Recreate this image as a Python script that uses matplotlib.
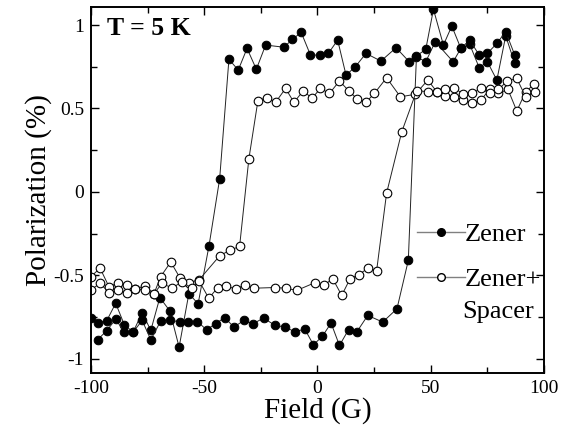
import matplotlib
matplotlib.use("Agg")
import matplotlib.pyplot as plt
from matplotlib.lines import Line2D
from matplotlib.ticker import MultipleLocator, FormatStrFormatter

# Zener, field swept down (upper branch, flips near -45 G)
zener_down_x = [87.1, 83.1, 79.2, 75.0, 71.4, 67.2, 63.3, 59.9, 52.0, 47.8, 43.7, 40.5,
                34.7, 28.0, 21.4, 16.7, 12.6, 8.9, 4.8, 0.9, -3.1, -7.2, -11.1, -14.8,
                -22.9, -27.0, -31.1, -35.0, -39.1, -43.2, -47.9, -52.7, -56.8, -61.1,
                -65.2, -69.6, -73.6, -77.4, -81.4, -85.3, -89.1, -93.1, -97.1, -100.0]
zener_down_y = [0.77, 0.935, 0.67, 0.78, 0.744, 0.885, 0.86, 0.78, 0.90, 0.78, 0.81, 0.78,
                0.864, 0.784, 0.83, 0.75, 0.70, 0.91, 0.83, 0.82, 0.82, 0.956, 0.914, 0.867,
                0.88, 0.735, 0.86, 0.73, 0.795, 0.078, -0.323, -0.67, -0.61, -0.93,
                -0.713, -0.633, -0.83, -0.723, -0.84, -0.796, -0.667, -0.773, -0.786, -0.754]

# Zener, field swept up (lower branch, flips near +45 G)
zener_up_x = [-97.1, -93.1, -89.1, -85.3, -81.4, -77.4, -73.6, -69.2, -65.2, -60.8, -57.1,
              -53.0, -49.0, -45.0, -41.0, -36.9, -32.5, -28.5, -23.8, -18.7, -14.2, -9.8,
              -5.7, -1.8, 2.1, 6.0, 9.7, 13.7, 17.3, 22.2, 28.8, 35.1, 40.1, 43.7, 47.8,
              51.2, 55.6, 59.3, 63.3, 67.2, 71.4, 75.0, 79.2, 83.1, 87.1]
zener_up_y = [-0.886, -0.832, -0.763, -0.84, -0.84, -0.77, -0.886, -0.773, -0.767, -0.78, -0.78,
              -0.777, -0.826, -0.79, -0.753, -0.81, -0.77, -0.79, -0.756, -0.80, -0.81, -0.84,
              -0.82, -0.916, -0.866, -0.786, -0.92, -0.826, -0.84, -0.74, -0.78, -0.70, -0.41,
              0.815, 0.854, 1.094, 0.88, 0.994, 0.86, 0.91, 0.82, 0.83, 0.89, 0.96, 0.82]

# Zener + spacer, field swept down
spacer_down_x = [95.6, 91.9, 88.0, 84.1, 79.9, 76.0, 72.1, 68.1, 64.3, 60.4, 56.4, 52.7, 48.7,
                 43.2, 36.6, 30.5, 25.1, 21.4, 17.5, 13.7, 9.7, 5.3, 1.3, -2.5, -6.2, -10.4,
                 -14.1, -18.5, -22.3, -26.3, -30.3, -34.4, -38.8, -43.2, -52.3, -56.7, -60.8,
                 -64.8, -69.2, -72.2, -76.2, -80.6, -84.0, -88.0, -92.1, -96.0, -100.0]
spacer_down_y = [0.645, 0.60, 0.485, 0.614, 0.59, 0.614, 0.55, 0.535, 0.55, 0.57, 0.577, 0.60, 0.67,
                 0.585, 0.57, 0.684, 0.59, 0.537, 0.557, 0.607, 0.665, 0.59, 0.62, 0.56, 0.607, 0.537,
                 0.62, 0.537, 0.565, 0.547, 0.198, -0.327, -0.35, -0.383, -0.527, -0.543, -0.513,
                 -0.42, -0.507, -0.61, -0.563, -0.583, -0.557, -0.547, -0.567, -0.457, -0.507]

# Zener + spacer, field swept up
spacer_up_x = [-100.0, -96.0, -92.1, -88.0, -84.0, -80.6, -76.2, -72.2, -68.6, -64.2, -59.8,
               -55.6, -52.3, -48.0, -44.0, -40.2, -36.1, -32.2, -28.1, -18.9, -14.1, -9.1,
               -1.0, 2.8, 6.7, 10.7, 14.4, 18.2, 22.2, 26.1, 30.5, 37.2, 43.8, 49.0, 52.7,
               56.4, 60.4, 64.3, 68.1, 72.1, 76.0, 79.9, 83.8, 88.0, 91.9, 95.9]
spacer_up_y = [-0.587, -0.547, -0.603, -0.59, -0.605, -0.583, -0.587, -0.61, -0.547, -0.577, -0.537,
               -0.577, -0.533, -0.637, -0.573, -0.563, -0.583, -0.557, -0.577, -0.573, -0.577, -0.59,
               -0.543, -0.56, -0.52, -0.62, -0.52, -0.497, -0.457, -0.473, -0.008, 0.36, 0.607, 0.60, 0.60,
               0.617, 0.625, 0.585, 0.59, 0.62, 0.59, 0.614, 0.665, 0.68, 0.57, 0.60]

plt.rcParams['font.family'] = ['Liberation Serif', 'DejaVu Serif']
plt.rcParams['axes.unicode_minus'] = False

fig = plt.figure(figsize=(5.67, 4.30), dpi=100)
ax = fig.add_axes([0.1605, 0.1326, 0.7989, 0.8511])

line_kw = dict(color='#222222', lw=0.7, marker='o', ms=6.2)
ax.plot(zener_down_x, zener_down_y, mfc='black', mec='black', mew=0.7, **line_kw)
ax.plot(zener_up_x, zener_up_y, mfc='black', mec='black', mew=0.7, **line_kw)
ax.plot(spacer_down_x, spacer_down_y, mfc='white', mec='black', mew=0.8, **line_kw)
ax.plot(spacer_up_x, spacer_up_y, mfc='white', mec='black', mew=0.8, **line_kw)

ax.set_xlim(-100, 100)
ax.set_ylim(-1.085, 1.108)
ax.xaxis.set_major_locator(MultipleLocator(50))
ax.xaxis.set_minor_locator(MultipleLocator(25))
ax.yaxis.set_major_locator(MultipleLocator(0.5))
ax.yaxis.set_minor_locator(MultipleLocator(0.25))
ax.yaxis.set_major_formatter(FormatStrFormatter('%g'))
ax.tick_params(which='both', direction='in', top=True, right=True, width=1.0,
               labelsize=14, pad=5)
ax.tick_params(which='major', length=6)
ax.tick_params(which='minor', length=4)
for s in ax.spines.values():
    s.set_linewidth(1.4)

ax.set_xlabel('Field (G)', fontsize=21, labelpad=0)
ax.set_ylabel('Polarization (%)', fontsize=21, labelpad=1)

ax.text(0.035, 0.94, 'T = 5 K', transform=ax.transAxes, fontsize=18.5,
        fontweight='bold', va='center', ha='left')

handles = [
    Line2D([], [], color='gray', lw=1, marker='o', ms=5.5, mfc='black', mec='black'),
    Line2D([], [], color='gray', lw=1, marker='o', ms=5.5, mfc='white', mec='black'),
]
ax.legend(handles, ['Zener', 'Zener+'], loc='upper left', bbox_to_anchor=(0.72, 0.411),
          frameon=False, fontsize=19, handlelength=1.8, handletextpad=0.0,
          borderpad=0, borderaxespad=0, labelspacing=0.82)
ax.text(0.82, 0.166, 'Spacer', transform=ax.transAxes, fontsize=19,
        va='center', ha='left')

fig.savefig('out.png', dpi=100)
